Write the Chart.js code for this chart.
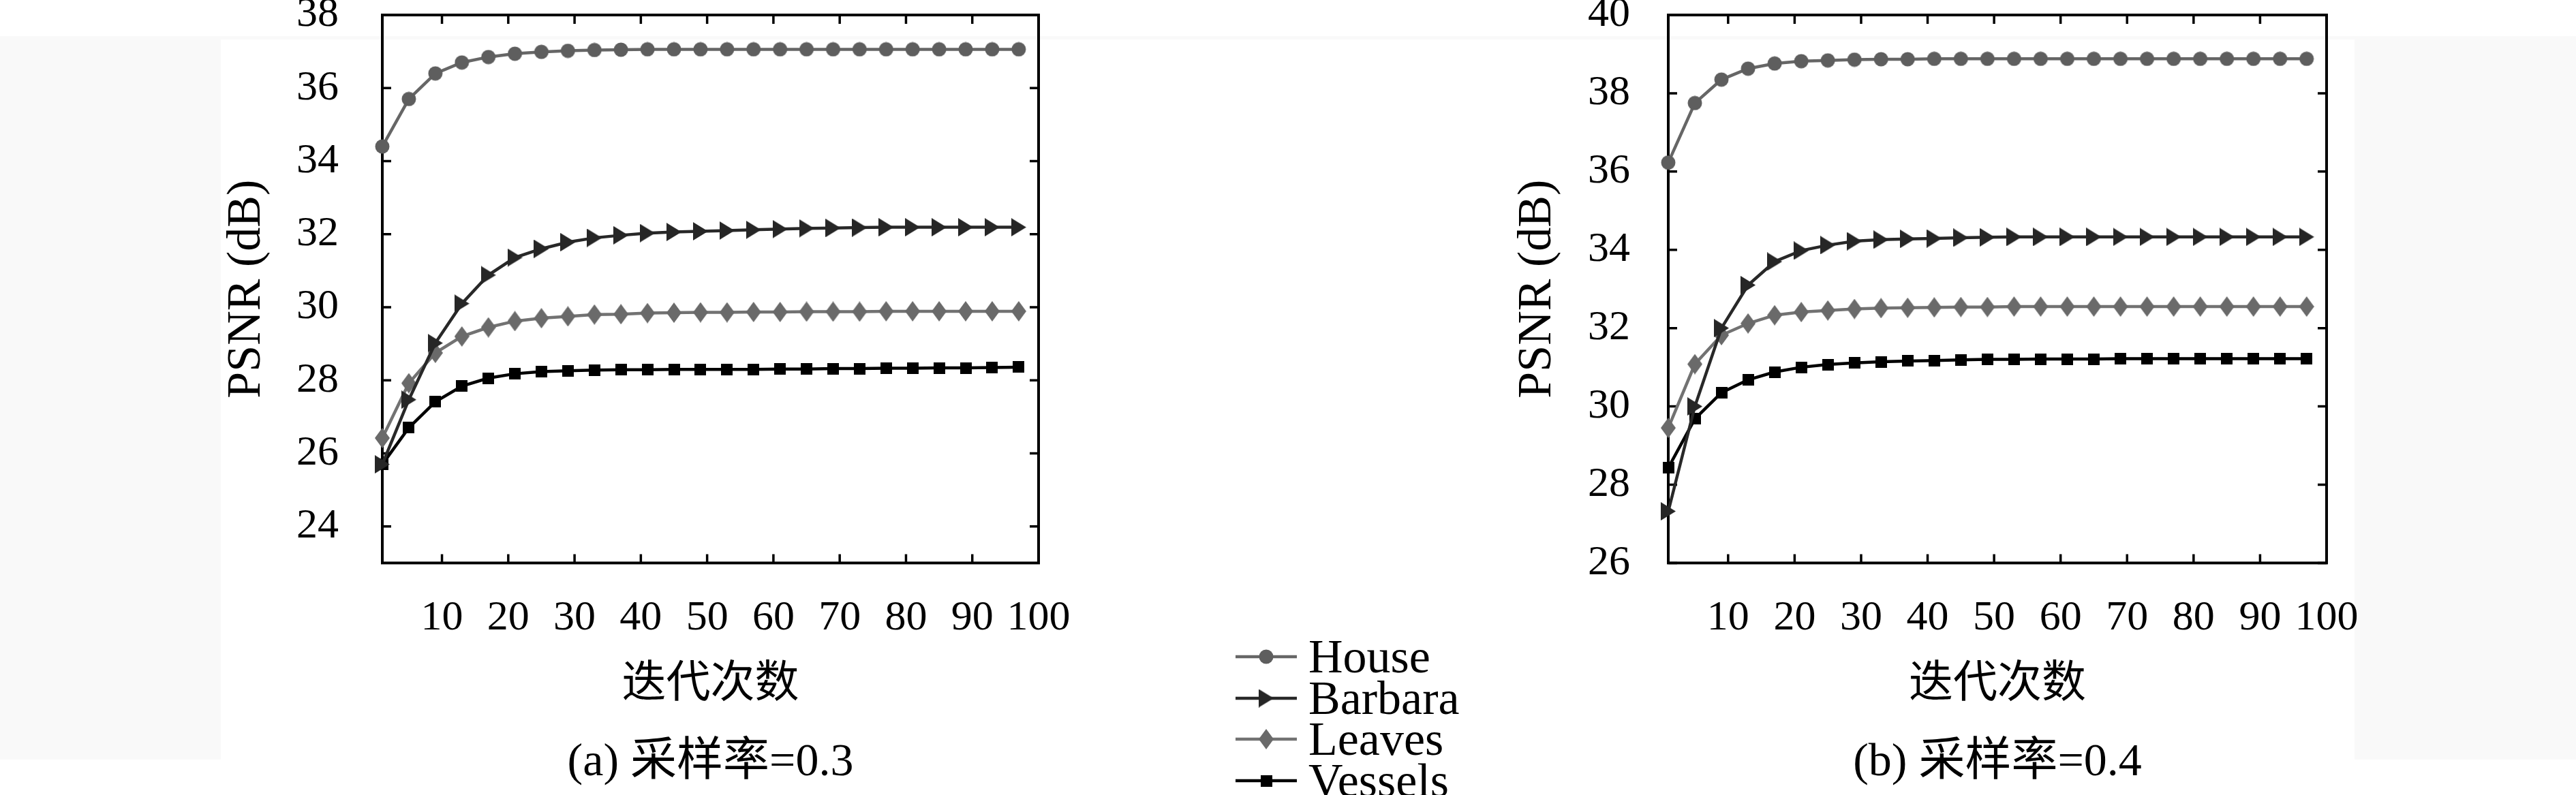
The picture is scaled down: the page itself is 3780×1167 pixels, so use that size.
<!DOCTYPE html>
<html>
<head>
<meta charset="utf-8">
<script src="https://cdn.jsdelivr.net/npm/chart.js@4.4.1/dist/chart.umd.min.js"></script>
<style>
    html, body { margin: 0; padding: 0; background: #ffffff; }
    #page { position: relative; width: 3780px; height: 1167px; overflow: hidden; background: #ffffff; }
    .band { position: absolute; left: 0; top: 53px; width: 3780px; height: 1062px; background: #f9f9f9; }
    .panel { position: absolute; left: 324px; top: 58px; width: 3131px; height: 1057px; background: #ffffff; }
    canvas { position: absolute; top: 0; }
    #chartA { left: 0; width: 1790px; height: 1167px; }
    #chartB { left: 1890px; width: 1890px; height: 1167px; }
    #legend { position: absolute; left: 1813px; top: 934px; z-index: 5; font-family: "Liberation Serif", serif; font-size: 70px; color: #000; }
    .legend-row { display: flex; align-items: center; height: 60.6px; line-height: 60.6px; white-space: nowrap; }
    .legend-row canvas { position: static; width: 107px; height: 40px; }
</style>
</head>
<body>
<div id="page">
    <div class="band"></div>
    <div class="panel"></div>
    <canvas id="chartA" width="1790" height="1167"></canvas>
    <canvas id="chartB" width="1890" height="1167"></canvas>
    <div id="legend"></div>
</div>
<script>
// Iteration counts where a point was recorded, and axis tick values
const iterations = [1, 5, 9, 13, 17, 21, 25, 29, 33, 37, 41, 45, 49, 53, 57, 61, 65, 69, 73, 77, 81, 85, 89, 93, 97];
const xTickValues = [10, 20, 30, 40, 50, 60, 70, 80, 90, 100];
const yTicksA = [24, 26, 28, 30, 32, 34, 36, 38];
const yTicksB = [26, 28, 30, 32, 34, 36, 38, 40];
const seriesNames = ['House', 'Barbara', 'Leaves', 'Vessels'];

// (a) sampling rate 0.3
const houseA = [34.40, 35.70, 36.40, 36.70, 36.85, 36.94, 36.99, 37.02, 37.04, 37.05, 37.06, 37.06, 37.06, 37.06, 37.06, 37.06, 37.06, 37.06, 37.06, 37.06, 37.06, 37.06, 37.06, 37.06, 37.06];
const barbaraA = [25.70, 27.47, 29.02, 30.10, 30.88, 31.36, 31.60, 31.78, 31.90, 31.97, 32.03, 32.06, 32.08, 32.10, 32.12, 32.14, 32.16, 32.17, 32.18, 32.19, 32.19, 32.19, 32.19, 32.19, 32.19];
const leavesA = [26.42, 27.92, 28.75, 29.20, 29.45, 29.62, 29.70, 29.75, 29.80, 29.81, 29.84, 29.85, 29.86, 29.86, 29.87, 29.87, 29.88, 29.88, 29.88, 29.89, 29.89, 29.89, 29.89, 29.89, 29.89];
const vesselsA = [25.70, 26.70, 27.41, 27.84, 28.06, 28.18, 28.24, 28.26, 28.28, 28.29, 28.29, 28.30, 28.30, 28.30, 28.30, 28.31, 28.31, 28.32, 28.32, 28.33, 28.33, 28.34, 28.34, 28.35, 28.36];

// (b) sampling rate 0.4
const houseB = [36.23, 37.75, 38.35, 38.63, 38.76, 38.82, 38.84, 38.86, 38.87, 38.87, 38.88, 38.88, 38.88, 38.88, 38.88, 38.88, 38.88, 38.88, 38.88, 38.88, 38.88, 38.88, 38.88, 38.88, 38.88];
const barbaraB = [27.32, 30.00, 32.00, 33.10, 33.70, 33.98, 34.12, 34.22, 34.26, 34.28, 34.29, 34.31, 34.32, 34.33, 34.33, 34.33, 34.33, 34.33, 34.33, 34.33, 34.33, 34.33, 34.33, 34.33, 34.33];
const leavesB = [29.45, 31.08, 31.82, 32.12, 32.33, 32.41, 32.45, 32.49, 32.51, 32.52, 32.53, 32.54, 32.54, 32.55, 32.55, 32.55, 32.55, 32.55, 32.55, 32.55, 32.55, 32.55, 32.55, 32.55, 32.55];
const vesselsB = [28.43, 29.68, 30.35, 30.68, 30.88, 31.00, 31.07, 31.11, 31.14, 31.16, 31.17, 31.19, 31.20, 31.20, 31.21, 31.21, 31.21, 31.22, 31.22, 31.22, 31.22, 31.22, 31.22, 31.22, 31.22];

const FONT_FAMILY = '"Liberation Serif", "Noto Sans CJK SC", serif';
Chart.defaults.font.family = FONT_FAMILY;
Chart.defaults.color = '#000000';

// Small canvases used as point styles (MATLAB-like markers)
function makeMarker(shape, color) {
    const c = document.createElement('canvas');
    const sizes = { circle: [22, 22], triangle: [22, 27], diamond: [22, 30], square: [17, 17] };
    c.width = sizes[shape][0];
    c.height = sizes[shape][1];
    const g = c.getContext('2d');
    g.fillStyle = color;
    g.beginPath();
    if (shape === 'circle') {
        g.arc(11, 11, 10.5, 0, Math.PI * 2);
    } else if (shape === 'triangle') {
        g.moveTo(0, 0); g.lineTo(22, 13.5); g.lineTo(0, 27);
    } else if (shape === 'diamond') {
        g.moveTo(11, 0); g.lineTo(22, 15); g.lineTo(11, 30); g.lineTo(0, 15);
    } else {
        g.rect(0, 0, 17, 17);
    }
    g.closePath();
    g.fill();
    return c;
}

const seriesStyles = [
    { line: '#666666', marker: makeMarker('circle', '#5e5e5e') },
    { line: '#282828', marker: makeMarker('triangle', '#262626') },
    { line: '#727272', marker: makeMarker('diamond', '#6a6a6a') },
    { line: '#000000', marker: makeMarker('square', '#000000') }
];

function buildDatasets(seriesList) {
    return seriesList.map((values, i) => ({
        label: seriesNames[i],
        data: iterations.map((it, k) => ({ x: it, y: values[k] })),
        borderColor: seriesStyles[i].line,
        backgroundColor: seriesStyles[i].line,
        borderWidth: 4.5,
        pointStyle: seriesStyles[i].marker,
        pointRadius: 11,
        tension: 0,
        fill: false,
        clip: false
    }));
}

// Box frame with inward ticks on all four sides, drawn under the data
const frameTicksPlugin = {
    id: 'frameTicks',
    beforeDatasetsDraw(chart) {
        const { ctx, chartArea: { left, right, top, bottom }, scales: { x, y } } = chart;
        const len = 13;
        ctx.save();
        ctx.strokeStyle = '#000000';
        ctx.lineWidth = 3.5;
        ctx.beginPath();
        x.ticks.forEach(t => {
            const px = x.getPixelForValue(t.value);
            ctx.moveTo(px, bottom); ctx.lineTo(px, bottom - len);
            ctx.moveTo(px, top); ctx.lineTo(px, top + len);
        });
        y.ticks.forEach(t => {
            const py = y.getPixelForValue(t.value);
            ctx.moveTo(left, py); ctx.lineTo(left + len, py);
            ctx.moveTo(right, py); ctx.lineTo(right - len, py);
        });
        ctx.stroke();
        ctx.lineWidth = 4;
        ctx.strokeRect(left, top, right - left, bottom - top);
        ctx.restore();
    }
};

function buildConfig(seriesList, yMin, yMax, yTicks, caption, layout) {
    return {
        type: 'line',
        data: { datasets: buildDatasets(seriesList) },
        options: {
            responsive: false,
            animation: false,
            devicePixelRatio: 1,
            events: [],
            layout: { padding: { left: 0, right: layout.padRight, top: 22, bottom: 0 } },
            scales: {
                x: {
                    type: 'linear',
                    min: 1,
                    max: 100,
                    grid: { display: false },
                    border: { display: false },
                    afterBuildTicks: scale => { scale.ticks = xTickValues.map(v => ({ value: v })); },
                    afterFit: scale => { scale.height = 219; scale.paddingLeft = 0; scale.paddingRight = 0; },
                    ticks: { autoSkip: false, maxRotation: 0, padding: 36, font: { size: 62 } },
                    title: { display: true, text: '迭代次数', font: { size: 65 }, padding: { top: 0, bottom: 0 } }
                },
                y: {
                    type: 'linear',
                    min: yMin,
                    max: yMax,
                    grid: { display: false },
                    border: { display: false },
                    afterBuildTicks: scale => { scale.ticks = yTicks.map(v => ({ value: v })); },
                    afterFit: scale => { scale.width = layout.yWidth; scale.paddingTop = 0; scale.paddingBottom = 0; },
                    ticks: { autoSkip: false, padding: layout.tickPad, font: { size: 62 } },
                    title: { display: true, text: 'PSNR (dB)', font: { size: 70 }, padding: { top: layout.titlePad, bottom: 0 } }
                }
            },
            plugins: {
                legend: { display: false, labels: { usePointStyle: true } },
                tooltip: { enabled: false },
                title: {
                    display: true,
                    position: 'bottom',
                    fullSize: false,
                    text: caption,
                    font: { size: 68, weight: 'normal' },
                    padding: { top: 34, bottom: 6 }
                }
            }
        },
        plugins: [frameTicksPlugin]
    };
}

const chartA = new Chart(
    document.getElementById('chartA'),
    buildConfig([houseA, barbaraA, leavesA, vesselsA], 23, 38, yTicksA, '(a) 采样率=0.3',
        { padRight: 266, yWidth: 561, tickPad: 56, titlePad: 321 })
);

const chartB = new Chart(
    document.getElementById('chartB'),
    buildConfig([houseB, barbaraB, leavesB, vesselsB], 26, 40, yTicksB, '(b) 采样率=0.4',
        { padRight: 366, yWidth: 558, tickPad: 48, titlePad: 325 })
);

// Shared legend between the two panels, built from the chart's own legend items
function buildHtmlLegend(chart, container) {
    const items = chart.options.plugins.legend.labels.generateLabels(chart);
    items.forEach(item => {
        const dataset = chart.data.datasets[item.datasetIndex];
        const row = document.createElement('div');
        row.className = 'legend-row';
        const sample = document.createElement('canvas');
        sample.width = 107;
        sample.height = 40;
        const g = sample.getContext('2d');
        g.strokeStyle = dataset.borderColor;
        g.lineWidth = 4.5;
        g.beginPath();
        g.moveTo(0, 20); g.lineTo(90, 20);
        g.stroke();
        const m = dataset.pointStyle;
        g.drawImage(m, 45 - m.width / 2, 20 - m.height / 2);
        const label = document.createElement('span');
        label.textContent = item.text;
        row.appendChild(sample);
        row.appendChild(label);
        container.appendChild(row);
    });
}

buildHtmlLegend(chartA, document.getElementById('legend'));
</script>
</body>
</html>
